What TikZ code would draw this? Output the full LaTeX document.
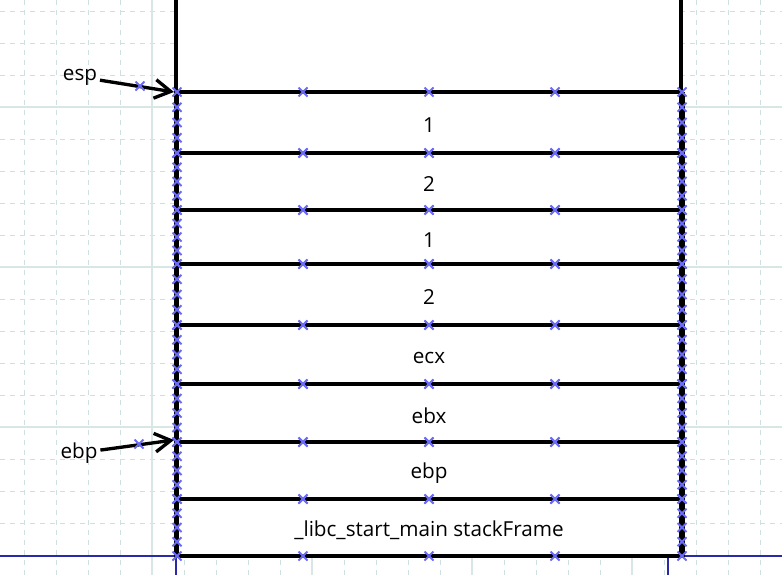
\documentclass[tikz,border=0pt]{standalone}
\usepackage{fontspec}
\setmainfont{Open Sans}
\usetikzlibrary{arrows.meta}
\definecolor{gridminor}{HTML}{CFE0E0}
\definecolor{gridmajor}{HTML}{D8E6E6}
\definecolor{markblue}{HTML}{6B6BF5}
\definecolor{pageline}{HTML}{2A2AA8}
\begin{document}
\begin{tikzpicture}[x=0.75pt,y=-0.75pt,
  minorgrid/.style={gridminor,line width=0.75pt,dash pattern=on 3.75pt off 3.75pt},
  majorgrid/.style={gridmajor,line width=0.9pt},
  edge/.style={black,line width=2.6pt},
  thickedge/.style={black,line width=3.8pt},
  markst/.style={markblue,line width=1.4pt},
  lbl/.style={font=\fontsize{15.5pt}{18pt}\selectfont,inner sep=2pt},
  arr/.style={black,line width=2.5pt,-{Straight Barb[length=12pt,width=14pt,line width=2.5pt]}},
  xm/.pic={\draw[markst] (-4.5,-4.5)--(4.5,4.5) (-4.5,4.5)--(4.5,-4.5);}
]
\useasboundingbox (0,0) rectangle (782,575);
% grid
\foreach \gx in {24,56,...,760} \draw[minorgrid] (\gx,0) -- (\gx,575);
\foreach \gy in {11,43,...,571} \draw[minorgrid] (0,\gy) -- (782,\gy);
\foreach \gx in {152,312,472,632} \draw[majorgrid] (\gx,0) -- (\gx,575);
\foreach \gy in {107,267,427} \draw[majorgrid] (0,\gy) -- (782,\gy);
% page lines
\draw[pageline,line width=0.9pt] (0,556) -- (175,556) (682,556) -- (782,556)
  (176,556) -- (176,575) (668,556) -- (668,575);
% white background of stack
\fill[white] (175,-3) rectangle (682,556);
% top open cell
\draw[edge] (176,-5) -- (176,92) (681,-5) -- (681,92);
% cells
\foreach \ya/\yb/\t [count=\i] in {92/153/1,153/210/2,210/264/1,264/325/2,325/384/ecx,384/442/ebx,442/499/ebp,499/556/{\_libc\_start\_main stackFrame}}{
  \draw[edge] (176,\ya) rectangle (681,\yb);
  \node[lbl] (cell\i) at (429,{(\ya+\yb)/2+3}) {\t};
}
\draw[thickedge] (176.5,92) -- (176.5,557);
\draw[thickedge] (682,92) -- (682,557);
% markers
\foreach \ya/\yb in {92/153,153/210,210/264,264/325,325/384,384/442,442/499,499/556}{
  \foreach \mx in {303,429,555}{
    \pic at (\mx,\ya) {xm};
    \pic at (\mx,\yb) {xm};
  }
  \foreach \f in {0,0.25,0.5,0.75,1}{
    \pic at (177,{\ya+\f*(\yb-\ya)}) {xm};
    \pic at (682,{\ya+\f*(\yb-\ya)}) {xm};
  }
}
% pointers
\node[lbl] (esp) at (80,77) {esp};
\node[lbl] (ebp) at (79,453) {ebp};
\coordinate (espT) at (174,92);
\coordinate (ebpT) at (174,440);
\draw[arr] (esp) -- (espT);
\draw[arr] (ebp) -- (ebpT);
\pic at (140,86) {xm};
\pic at (139,444) {xm};
\end{tikzpicture}
\end{document}
